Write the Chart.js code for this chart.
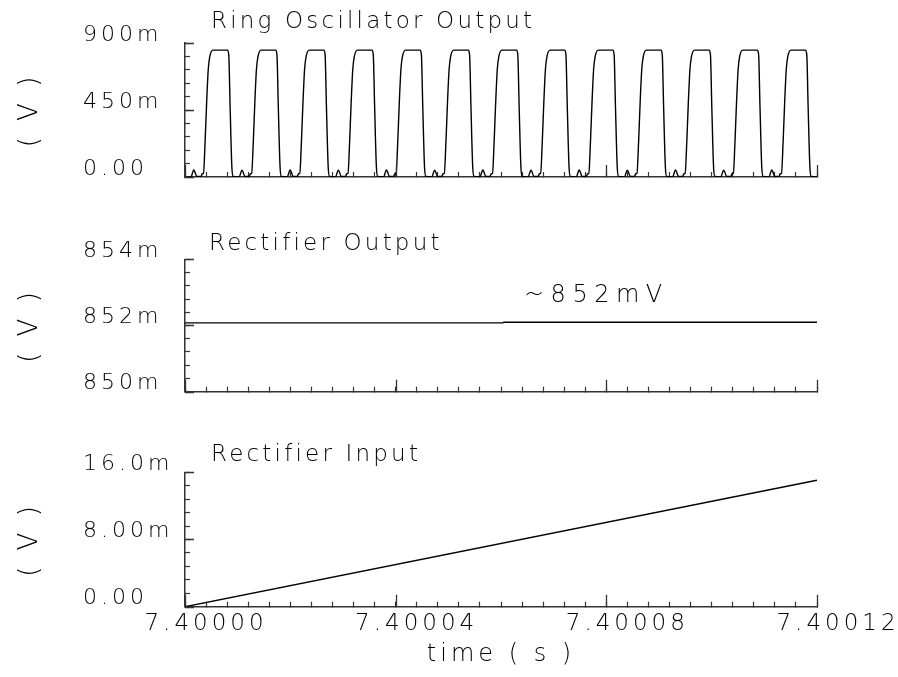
<!DOCTYPE html>
<html><head><meta charset="utf-8">
<script src="https://cdn.jsdelivr.net/npm/chart.js@4.4.0/dist/chart.umd.min.js"></script>
<style>
html,body{margin:0;padding:0;background:#fff;}
#wrap{position:relative;width:898px;height:677px;overflow:hidden;background:#fff;}
canvas{position:absolute;left:0;}
</style></head><body>
<div id="wrap">
<canvas id="c1" width="898" height="215" style="top:0px"></canvas>
<canvas id="c2" width="898" height="200" style="top:215px"></canvas>
<canvas id="c3" width="898" height="262" style="top:415px"></canvas>
</div>
<script>
// ---- data (time offsets in microseconds after 7.4 s, voltages in mV) ----
const oscTimeUs = [
0,
1.11,1.67,2.26,3.06,3.26,3.51,3.81,4.11,4.41,4.71,5.31,8.06,8.31,8.56,8.91,9.16,
10.26,10.82,11.41,12.21,12.41,12.66,12.96,13.26,13.56,13.86,14.46,17.21,17.46,17.71,18.06,18.31,
19.40,19.96,20.55,21.35,21.55,21.80,22.10,22.40,22.70,23.00,23.60,26.35,26.60,26.85,27.20,27.45,
28.55,29.11,29.70,30.50,30.70,30.95,31.25,31.55,31.85,32.15,32.75,35.50,35.75,36.00,36.35,36.60,
37.69,38.25,38.84,39.64,39.84,40.09,40.39,40.69,40.99,41.29,41.89,44.64,44.89,45.14,45.49,45.74,
46.84,47.40,47.99,48.79,48.99,49.24,49.54,49.84,50.14,50.44,51.04,53.79,54.04,54.29,54.64,54.89,
55.99,56.55,57.14,57.94,58.14,58.39,58.69,58.99,59.29,59.59,60.19,62.94,63.19,63.44,63.79,64.04,
65.13,65.69,66.28,67.08,67.28,67.53,67.83,68.13,68.43,68.73,69.33,72.08,72.33,72.58,72.93,73.18,
74.28,74.84,75.43,76.23,76.43,76.68,76.98,77.28,77.58,77.88,78.48,81.23,81.48,81.73,82.08,82.33,
83.42,83.98,84.57,85.37,85.57,85.82,86.12,86.42,86.72,87.02,87.62,90.37,90.62,90.87,91.22,91.47,
92.57,93.13,93.72,94.52,94.72,94.97,95.27,95.57,95.87,96.17,96.77,99.52,99.77,100.02,100.37,100.62,
101.72,102.28,102.87,103.67,103.87,104.12,104.42,104.72,105.02,105.32,105.92,108.67,108.92,109.17,109.52,109.77,
110.86,111.42,112.01,112.81,113.01,113.26,113.56,113.86,114.16,114.46,115.06,117.81,118.06,118.31,118.66,118.91,
120
];
const oscMv = [
2,
0,47,3,5,22,25,230,500,720,810,852,852,820,480,60,3,
0,46,3,5,22,25,230,500,720,810,852,852,820,480,60,3,
0,47,3,5,22,25,230,500,720,810,852,852,820,480,60,3,
0,46,3,5,22,25,230,500,720,810,852,852,820,480,60,3,
0,47,3,5,22,25,230,500,720,810,852,852,820,480,60,3,
0,46,3,5,22,25,230,500,720,810,852,852,820,480,60,3,
0,47,3,5,22,25,230,500,720,810,852,852,820,480,60,3,
0,46,3,5,22,25,230,500,720,810,852,852,820,480,60,3,
0,47,3,5,22,25,230,500,720,810,852,852,820,480,60,3,
0,46,3,5,22,25,230,500,720,810,852,852,820,480,60,3,
0,47,3,5,22,25,230,500,720,810,852,852,820,480,60,3,
0,46,3,5,22,25,230,500,720,810,852,852,820,480,60,3,
0,47,3,5,22,25,230,500,720,810,852,852,820,480,60,3,
0
];
const rectOutTimeUs = [0, 60.4, 60.5, 120];
const rectOutMv = [852.08, 852.08, 852.10, 852.10];
const rectInTimeUs = [0, 120];
const rectInMv = [0, 15.05];

const panelTitles = ["Ring Oscillator Output", "Rectifier Output", "Rectifier Input"];
const noteText = "~852mV";
const yAxisTitle = "( V )";
const xAxisTitle = "time ( s )";
const timeBase = 7.4;           // seconds
const xTickStepUs = 4;          // minor tick spacing
const yRanges = [[0, 900, 90], [850, 854, 0.4], [0, 16, 1.6]];

// ---- styling ----
const FONT = "'DejaVu Sans', 'Liberation Sans', sans-serif";
const AXIS = '#333';
const TXT = '#000';

function fmtV(v){ return Math.abs(v) < 1e-9 ? '0.00' : v.toPrecision(3) + 'm'; }
function fmtT(v){ return (timeBase + v * 1e-6).toFixed(5); }
function pts(t, v){ return t.map((x, i) => ({x: x, y: v[i]})); }

const decor = {
  id: 'decor',
  beforeLayout(chart){ chart.ctx.letterSpacing = '4px'; },
  beforeDraw(chart){ chart.ctx.letterSpacing = '4px'; },
  afterDraw(chart, args, opts){
    const ctx = chart.ctx, xs = chart.scales.x, ys = chart.scales.y;
    ctx.save();
    ctx.strokeStyle = AXIS; ctx.lineWidth = 1.3;
    ctx.beginPath();
    xs.ticks.forEach((t, i) => {
      if (i % 10 === 0) { const px = Math.round(xs.getPixelForTick(i)) + 0.5; ctx.moveTo(px, xs.top); ctx.lineTo(px, xs.top - 12); }
    });
    ys.ticks.forEach((t, i) => {
      if (i % 5 === 0) { const py = Math.round(ys.getPixelForTick(i)) + 0.5; ctx.moveTo(ys.right, py); ctx.lineTo(ys.right + 9, py); }
    });
    ctx.stroke();
    (opts.texts || []).forEach(tx => {
      ctx.font = '200 ' + tx.size + 'px ' + FONT;
      ctx.letterSpacing = tx.spacing + 'px';
      ctx.fillStyle = TXT; ctx.textAlign = 'left'; ctx.textBaseline = 'alphabetic';
      ctx.fillText(tx.text, tx.x, tx.y);
    });
    ctx.restore();
  }
};

function makeChart(id, t, v, idx, cfg){
  const [ymin, ymax, ystep] = yRanges[idx];
  return new Chart(document.getElementById(id), {
    type: 'line',
    data: { datasets: [{ data: pts(t, v), borderColor: '#000', borderWidth: 1.4,
      pointRadius: 0, fill: false, cubicInterpolationMode: 'monotone' }] },
    options: {
      responsive: false, animation: false, devicePixelRatio: 1,
      layout: { padding: cfg.pad },
      plugins: { legend: {display: false}, tooltip: {enabled: false}, title: {display: false},
        decor: { texts: cfg.texts } },
      scales: {
        x: {
          type: 'linear', min: 0, max: 120,
          border: { display: true, color: AXIS, width: 1.5 },
          grid: { drawOnChartArea: false, drawTicks: true, tickLength: -5, tickColor: AXIS, tickWidth: 1.2 },
          ticks: { stepSize: xTickStepUs, autoSkip: false, maxRotation: 0, display: cfg.showX,
            padding: 9, labelOffset: 21, color: TXT,
            font: { family: FONT, size: 23, weight: 200 },
            callback: (val, i) => (i % 10 === 0 ? fmtT(val) : '') },
          title: { display: cfg.showX, text: xAxisTitle, color: TXT,
            font: { family: FONT, size: 24, weight: 200 }, padding: { top: 0, bottom: 8 } },
          afterFit: s => { s.height = cfg.xH; }
        },
        y: {
          type: 'linear', min: ymin, max: ymax,
          border: { display: true, color: AXIS, width: 1.5 },
          grid: { drawOnChartArea: false, drawTicks: true, tickLength: -5, tickColor: AXIS, tickWidth: 1.2 },
          ticks: { stepSize: ystep, autoSkip: false, crossAlign: 'far', labelOffset: -8, color: TXT,
            font: { family: FONT, size: 22, weight: 200 },
            callback: (val, i) => (i % 5 === 0 ? fmtV(val) : '') },
          title: { display: true, text: yAxisTitle, color: TXT,
            font: { family: FONT, size: 26, weight: 200 }, padding: { top: -68, bottom: 0 } },
          afterFit: s => { s.width = 102; }
        }
      }
    },
    plugins: [decor]
  });
}

makeChart('c1', oscTimeUs, oscMv, 0, {
  pad: {left: 83, right: 81, top: 43, bottom: 28}, xH: 10, showX: false,
  texts: [{text: panelTitles[0], x: 211, y: 28, size: 23, spacing: 3.2}]
});
makeChart('c2', rectOutTimeUs, rectOutMv, 1, {
  pad: {left: 83, right: 81, top: 44.3, bottom: 13.3}, xH: 10, showX: false,
  texts: [{text: panelTitles[1], x: 209, y: 35, size: 23, spacing: 3.2},
          {text: noteText, x: 524, y: 87, size: 24, spacing: 6.5}]
});
makeChart('c3', rectInTimeUs, rectInMv, 2, {
  pad: {left: 83, right: 81, top: 57.3, bottom: 0}, xH: 70.3, showX: true,
  texts: [{text: panelTitles[2], x: 211, y: 46, size: 23, spacing: 3.2}]
});
</script>
</body></html>
